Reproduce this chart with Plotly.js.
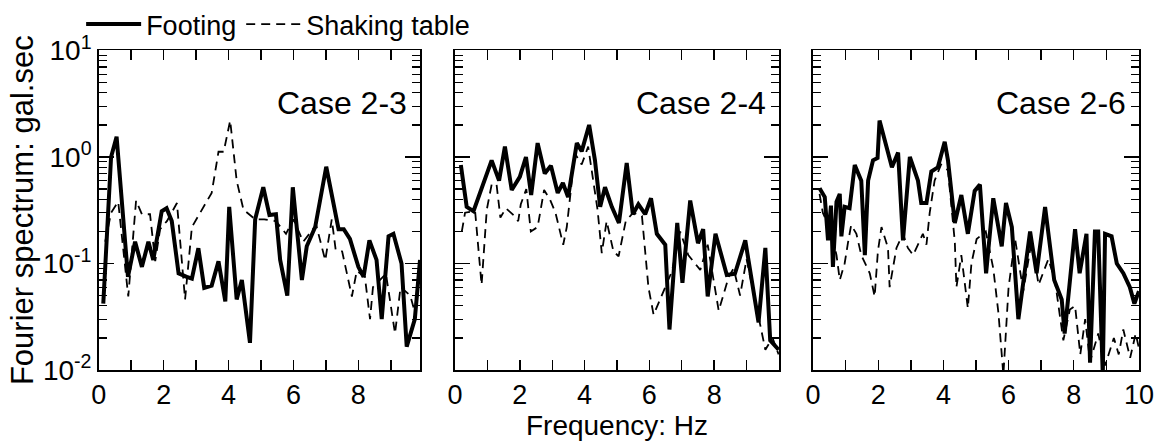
<!DOCTYPE html>
<html>
<head>
<meta charset="utf-8">
<script src="https://cdn.plot.ly/plotly-3.0.1.min.js"></script>
<style>html,body{margin:0;padding:0;background:#fff}#chart{width:1159px;height:448px}</style>
</head>
<body>
<div id="chart"></div>
<script>
// Case 2-3
var freq1F = [0.14,0.38,0.55,0.9,1.12,1.33,1.53,1.68,1.94,2.09,2.25,2.46,2.71,2.87,3.07,3.25,3.48,3.69,3.9,4.02,4.25,4.41,4.66,4.82,5.07,5.26,5.46,5.59,5.81,5.98,6.26,6.41,6.67,7.01,7.39,7.55,7.74,8.0,8.16,8.34,8.56,8.72,8.93,9.08,9.33,9.49,9.74,9.9];
var foot1 = [0.042,1.0,1.55,0.075,0.16,0.093,0.16,0.108,0.31,0.33,0.25,0.081,0.075,0.072,0.139,0.059,0.062,0.105,0.044,0.34,0.046,0.07,0.018,0.26,0.52,0.285,0.29,0.108,0.05,0.52,0.07,0.145,0.22,0.81,0.21,0.21,0.17,0.093,0.075,0.165,0.108,0.03,0.18,0.19,0.1,0.0166,0.03,0.108];
var freq1S = [0.2,0.38,0.6,0.91,1.15,1.33,1.58,1.74,1.89,2.1,2.41,2.66,2.87,3.18,3.48,3.69,3.85,4.05,4.25,4.46,4.82,5.1,5.46,5.77,6.0,6.3,6.7,6.98,7.18,7.3,7.5,7.8,7.95,8.2,8.36,8.45,8.85,9.13,9.3,9.6,9.75,9.9];
var shake1 = [0.16,0.3,0.38,0.049,0.39,0.29,0.29,0.105,0.21,0.25,0.37,0.046,0.22,0.32,0.46,1.12,1.12,2.2,0.6,0.32,0.26,0.26,0.25,0.19,0.26,0.16,0.23,0.107,0.26,0.135,0.13,0.049,0.085,0.075,0.03,0.06,0.08,0.022,0.06,0.05,0.034,0.08];
// Case 2-4
var freq2F = [0.18,0.36,0.57,0.82,1.13,1.36,1.54,1.75,2.0,2.19,2.35,2.55,2.77,2.96,3.17,3.33,3.49,3.76,3.91,4.14,4.32,4.48,4.63,4.84,5.06,5.3,5.49,5.66,5.87,6.05,6.23,6.49,6.62,6.86,7.02,7.26,7.5,7.66,7.8,8.04,8.39,8.64,8.96,9.37,9.58,9.73,9.99];
var foot2 = [0.84,0.34,0.31,0.51,0.93,0.6,1.25,0.49,0.65,1.0,0.44,1.35,0.7,0.83,0.46,0.57,0.42,1.35,1.13,2.0,0.93,0.34,0.52,0.34,0.24,0.88,0.29,0.36,0.29,0.41,0.19,0.15,0.024,0.24,0.066,0.39,0.155,0.21,0.049,0.19,0.078,0.08,0.165,0.028,0.14,0.019,0.0155];
var freq2S = [0.21,0.31,0.62,0.77,0.82,0.98,1.13,1.28,1.4,1.57,1.78,1.95,2.03,2.2,2.34,2.55,2.75,2.93,3.1,3.34,3.45,3.7,3.91,4.11,4.4,4.53,4.68,4.89,5.05,5.27,5.5,5.77,5.97,6.13,6.44,6.7,6.95,7.2,7.57,7.8,8.14,8.45,8.6,8.8,9.0,9.37,9.58,9.8,9.99];
var shake2 = [0.2,0.3,0.31,0.1,0.063,0.32,0.55,0.56,0.27,0.33,0.29,0.25,0.36,0.5,0.2,0.22,0.49,0.4,0.3,0.15,0.22,1.08,0.85,1.25,0.32,0.125,0.25,0.13,0.117,0.25,0.3,0.28,0.06,0.033,0.055,0.085,0.2,0.12,0.087,0.15,0.036,0.075,0.09,0.05,0.11,0.033,0.0155,0.02,0.014];
// Case 2-6
var freq3F = [0.2,0.36,0.46,0.55,0.61,0.72,0.82,0.87,0.97,1.12,1.28,1.48,1.59,1.69,1.84,1.98,2.04,2.25,2.42,2.61,2.76,2.97,3.12,3.22,3.32,3.48,3.63,3.83,4.04,4.14,4.35,4.55,4.75,4.96,5.12,5.31,5.53,5.79,5.92,6.1,6.3,6.66,6.86,7.12,7.4,7.63,7.72,8.04,8.18,8.39,8.5,8.65,8.75,8.89,8.96,9.16,9.32,9.52,9.72,9.86,10.0];
var foot3 = [0.51,0.42,0.165,0.35,0.093,0.38,0.45,0.18,0.34,0.33,0.84,0.6,0.12,0.6,0.93,0.98,2.2,1.25,0.8,1.1,0.165,1.0,0.72,0.6,0.37,0.37,0.73,0.8,1.39,0.93,0.24,0.44,0.19,0.48,0.55,0.081,0.41,0.145,0.37,0.22,0.03,0.2,0.081,0.34,0.07,0.046,0.022,0.21,0.081,0.19,0.0117,0.2,0.2,0.009,0.19,0.18,0.1,0.081,0.06,0.042,0.055];
var freq3S = [0.2,0.3,0.55,0.72,0.82,0.97,1.07,1.17,1.33,1.48,1.74,1.89,1.99,2.1,2.3,2.35,2.56,2.76,2.91,3.07,3.22,3.37,3.48,3.58,3.73,3.93,4.14,4.35,4.4,4.55,4.75,4.86,5.02,5.3,5.53,5.69,5.84,5.95,6.0,6.2,6.45,6.71,6.92,7.22,7.42,7.68,7.88,8.04,8.2,8.35,8.5,8.75,8.96,9.23,9.38,9.52,9.73,9.9,10.0];
var shake3 = [0.45,0.3,0.2,0.12,0.07,0.1,0.155,0.23,0.19,0.12,0.081,0.049,0.13,0.22,0.14,0.06,0.14,0.19,0.14,0.12,0.15,0.19,0.15,0.3,0.6,0.85,0.75,0.16,0.06,0.12,0.038,0.1,0.17,0.2,0.09,0.034,0.009,0.032,0.06,0.17,0.055,0.165,0.063,0.11,0.07,0.019,0.037,0.04,0.014,0.03,0.012,0.022,0.011,0.02,0.014,0.024,0.013,0.022,0.016];

var caseLabels = ['Case 2-3','Case 2-4','Case 2-6'];
var seriesNames = ['Footing','Shaking table'];
var xTickVals12 = [0,2,4,6,8];
var xTickVals3 = [0,2,4,6,8,10];
var xMinorVals = [1,3,5,7,9];
var yTickVals = [0.01,0.1,1,10];
var yTickText = ['10<sup>-2</sup>','10<sup>-1</sup>','10<sup>0</sup>','10<sup>1</sup>'];
var yMinorVals = [0.02,0.03,0.04,0.05,0.06,0.07,0.08,0.09,0.2,0.3,0.4,0.5,0.6,0.7,0.8,0.9,2,3,4,5,6,7,8,9];

var FONT = 'Liberation Sans, Arial, Helvetica, sans-serif';
var footLine = {color:'#000', width:4};
var shakeLine = {color:'#000', width:1.8, dash:'9px,6px'};

var freqF = [freq1F, freq2F, freq3F], footV = [foot1, foot2, foot3];
var freqS = [freq1S, freq2S, freq3S], shakeV = [shake1, shake2, shake3];

var data = [];
for (var i = 0; i < 3; i++) {
  var xa = i === 0 ? 'x' : 'x' + (i + 1);
  var ya = i === 0 ? 'y' : 'y' + (i + 1);
  data.push({x: freqS[i], y: shakeV[i], xaxis: xa, yaxis: ya, mode: 'lines', name: seriesNames[1],
             line: shakeLine, showlegend: i === 0, legendgroup: 's', legendrank: 2, hoverinfo: 'skip'});
  data.push({x: freqF[i], y: footV[i], xaxis: xa, yaxis: ya, mode: 'lines', name: seriesNames[0],
             line: footLine, showlegend: i === 0, legendgroup: 'f', legendrank: 1, hoverinfo: 'skip'});
}

var yDomain = [0.1741, 0.8873];
var xDomains = [[0.0852, 0.3624], [0.3926, 0.6721], [0.7015, 0.9827]];
var xRanges = [[0, 9.9], [0, 10], [0, 10]];

function xAxis(i) {
  var vals = i === 2 ? xTickVals3 : xTickVals12;
  var ax = {
    domain: xDomains[i], range: xRanges[i], anchor: i === 0 ? 'y' : 'y' + (i + 1),
    tickmode: 'array', tickvals: vals, ticktext: vals.map(String),
    ticks: 'inside', ticklen: 10, tickwidth: 1.4, tickcolor: '#000',
    minor: {tickmode: 'array', tickvals: xMinorVals, ticks: 'inside', ticklen: 10, tickwidth: 1.4, tickcolor: '#000'},
    showline: true, linewidth: 1.6, linecolor: '#000', mirror: 'allticks',
    showgrid: false, zeroline: false, automargin: false,
    tickfont: {family: FONT, size: 27, color: '#000'}
  };
  if (i === 1) ax.title = {text: 'Frequency: Hz', font: {family: FONT, size: 28, color: '#000'}, standoff: 4};
  return ax;
}
function yAxis(i) {
  var ay = {
    domain: yDomain, type: 'log', range: [-2, 1], anchor: i === 0 ? 'x' : 'x' + (i + 1),
    tickmode: 'array', tickvals: yTickVals, ticktext: yTickText,
    ticks: 'inside', ticklen: 15, tickwidth: 1.4, tickcolor: '#000',
    minor: {tickmode: 'array', tickvals: yMinorVals, ticks: 'inside', ticklen: 8, tickwidth: 1.2, tickcolor: '#000'},
    showline: true, linewidth: 1.6, linecolor: '#000', mirror: 'allticks',
    showgrid: false, zeroline: false, automargin: false,
    showticklabels: i === 0,
    tickfont: {family: FONT, size: 28, color: '#000'}
  };
  if (i === 0) ay.title = {text: 'Fourier spectrum: gal.sec', font: {family: FONT, size: 31, color: '#000'}, standoff: 0};
  return ay;
}

var layout = {
  width: 1159, height: 448,
  margin: {l: 0, r: 0, t: 0, b: 0},
  paper_bgcolor: '#fff', plot_bgcolor: '#fff',
  font: {family: FONT, color: '#000'},
  showlegend: true,
  legend: {orientation: 'h', x: 0.07, y: 1.0, xanchor: 'left', yanchor: 'top',
           font: {family: FONT, size: 27, color: '#000'}, itemwidth: 55,
           bgcolor: 'rgba(0,0,0,0)', traceorder: 'normal', tracegroupgap: 0},
  annotations: caseLabels.map(function (t, i) {
    return {text: t, xref: (i === 0 ? 'x' : 'x' + (i + 1)) + ' domain', yref: (i === 0 ? 'y' : 'y' + (i + 1)) + ' domain',
            x: 0.965, y: 0.836, xanchor: 'right', yanchor: 'middle', showarrow: false,
            font: {family: FONT, size: 32, color: '#000'}};
  })
};
['', '2', '3'].forEach(function (s, i) {
  layout['xaxis' + s] = xAxis(i);
  layout['yaxis' + s] = yAxis(i);
});

Plotly.newPlot('chart', data, layout, {staticPlot: true, displayModeBar: false});
</script>
</body>
</html>
